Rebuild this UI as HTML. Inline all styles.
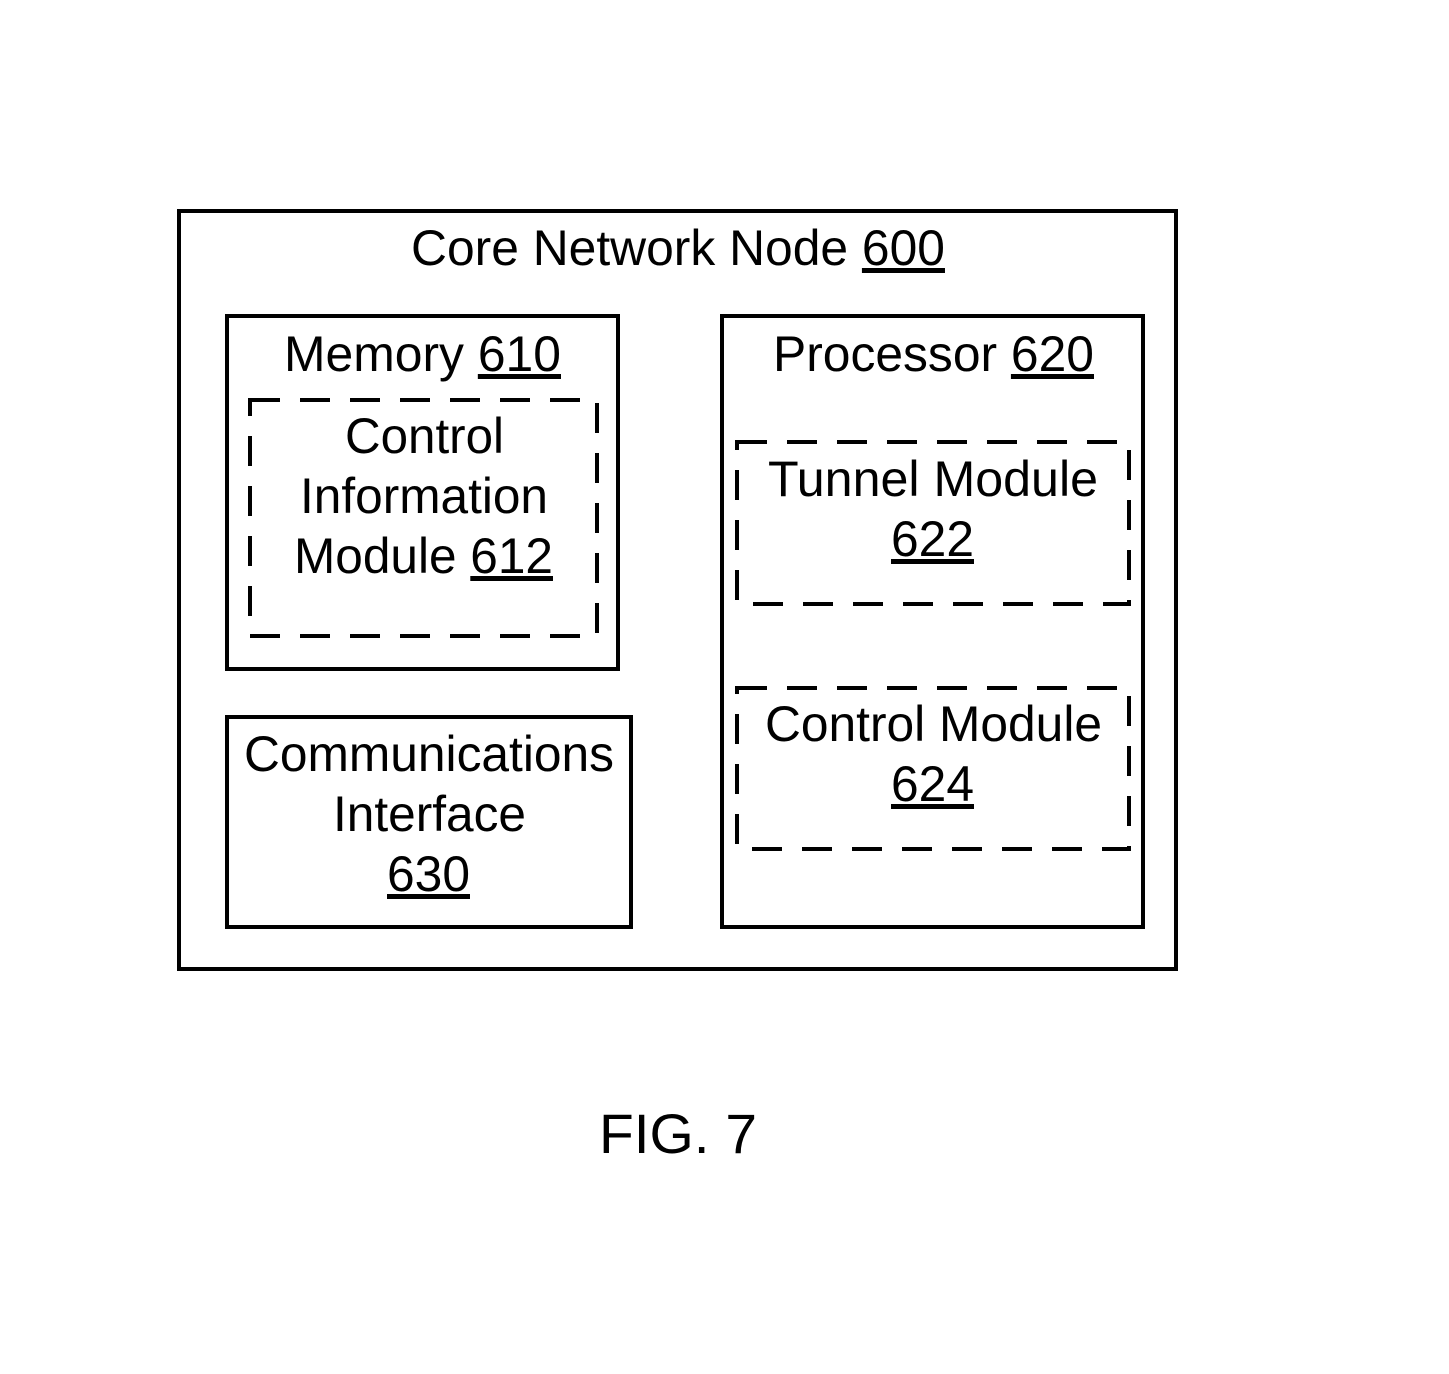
<!DOCTYPE html>
<html><head><meta charset="utf-8"><style>html,body{margin:0;padding:0;background:#fff}svg{display:block}</style></head>
<body>
<svg width="1449" height="1374" viewBox="0 0 1449 1374" xmlns="http://www.w3.org/2000/svg" font-family="'Liberation Sans', Arial, sans-serif" font-size="50" fill="#000">
<g fill="none" stroke="#000" stroke-width="4">
<rect x="179" y="211" width="997" height="758"/>
<rect x="227" y="316" width="391" height="353"/>
<rect x="227" y="717" width="404" height="210"/>
<rect x="722" y="316" width="421" height="611"/>
</g>
<g fill="none" stroke="#000" stroke-width="4" stroke-dasharray="30 20">
<rect x="250" y="400" width="347" height="236"/>
<rect x="737" y="442" width="392" height="162"/>
<rect x="737" y="688" width="392" height="161"/>
</g>
<g text-anchor="start" stroke="none">
<text x="411" y="265" textLength="534" lengthAdjust="spacingAndGlyphs">Core Network Node <tspan text-decoration="underline">600</tspan></text>
<text x="284" y="371" textLength="277" lengthAdjust="spacingAndGlyphs">Memory <tspan text-decoration="underline">610</tspan></text>
<text x="773" y="371" textLength="321" lengthAdjust="spacingAndGlyphs">Processor <tspan text-decoration="underline">620</tspan></text>
<text x="345" y="453" textLength="159" lengthAdjust="spacingAndGlyphs">Control</text>
<text x="300" y="513" textLength="248" lengthAdjust="spacingAndGlyphs">Information</text>
<text x="294" y="573" textLength="259" lengthAdjust="spacingAndGlyphs">Module <tspan text-decoration="underline">612</tspan></text>
<text x="768" y="496" textLength="330" lengthAdjust="spacingAndGlyphs">Tunnel Module</text>
<text x="891" y="556" textLength="83" lengthAdjust="spacingAndGlyphs" text-decoration="underline">622</text>
<text x="765" y="741" textLength="337" lengthAdjust="spacingAndGlyphs">Control Module</text>
<text x="891" y="801" textLength="83" lengthAdjust="spacingAndGlyphs" text-decoration="underline">624</text>
<text x="244" y="771" textLength="370" lengthAdjust="spacingAndGlyphs">Communications</text>
<text x="333" y="831" textLength="193" lengthAdjust="spacingAndGlyphs">Interface</text>
<text x="387" y="891" textLength="83" lengthAdjust="spacingAndGlyphs" text-decoration="underline">630</text>
<text x="599" y="1153" font-size="56" textLength="158" lengthAdjust="spacingAndGlyphs">FIG. 7</text>
</g>
</svg>
</body></html>
